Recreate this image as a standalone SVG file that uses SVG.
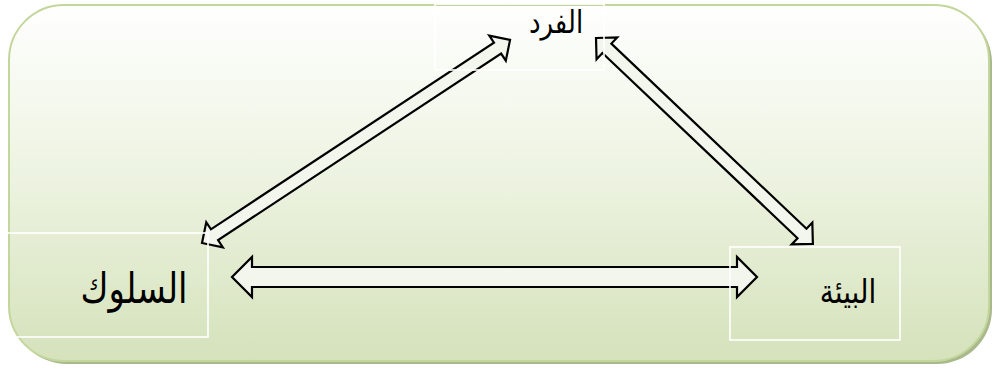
<svg xmlns="http://www.w3.org/2000/svg" width="998" height="373" viewBox="0 0 998 373">
<defs>
<linearGradient id="bg" x1="0" y1="0" x2="0" y2="1">
<stop offset="0" stop-color="#ffffff"/>
<stop offset="0.45" stop-color="#eef4e3"/>
<stop offset="1" stop-color="#d5e2bb"/>
</linearGradient>
<style>
.arrow{fill:#f3f6ec;stroke:#000;stroke-width:2.2;stroke-linejoin:miter}
.box{fill:none;stroke:#ffffff;stroke-width:1.6}
.lbl{font-family:"DejaVu Sans","Liberation Sans",sans-serif;fill:#000;text-anchor:middle}
</style>
</defs>
<rect x="12" y="8" width="980" height="356" rx="55" fill="#a8b98c"/>
<rect x="9" y="5" width="980" height="356" rx="55" fill="url(#bg)" stroke="#c3d69b" stroke-width="2"/>
<g id="connectors">
<path class="arrow" transform="translate(232,277)" d="M0 0 L20 -20 L20 -10 L505 -10 L505 -20 L525 0 L505 20 L505 10 L20 10 L20 20 Z"/>
<path class="arrow" transform="translate(202,243) rotate(-33.4)" d="M0 0 L15 -15 L15 -6.5 L354 -6.5 L354 -15 L369 0 L354 15 L354 6.5 L15 6.5 L15 15 Z"/>
<path class="arrow" transform="translate(596,38) rotate(43.5)" d="M0 0 L15 -15 L15 -6.5 L284 -6.5 L284 -15 L299 0 L284 15 L284 6.5 L15 6.5 L15 15 Z"/>
</g>
<g id="node-individual">
<rect class="box" x="435" y="4" width="169" height="66"/>
<text class="lbl" transform="translate(556,33) scale(1,1.2)" font-size="26">الفرد</text>
</g>
<g id="node-behavior">
<rect class="box" x="-2" y="233" width="210" height="104"/>
<text class="lbl" transform="translate(134,303) scale(1,1.22)" font-size="34">السلوك</text>
</g>
<g id="node-environment">
<rect class="box" x="730" y="247" width="170" height="93"/>
<text class="lbl" transform="translate(848,303) scale(1,1.18)" font-size="28">البيئة</text>
</g>
</svg>
